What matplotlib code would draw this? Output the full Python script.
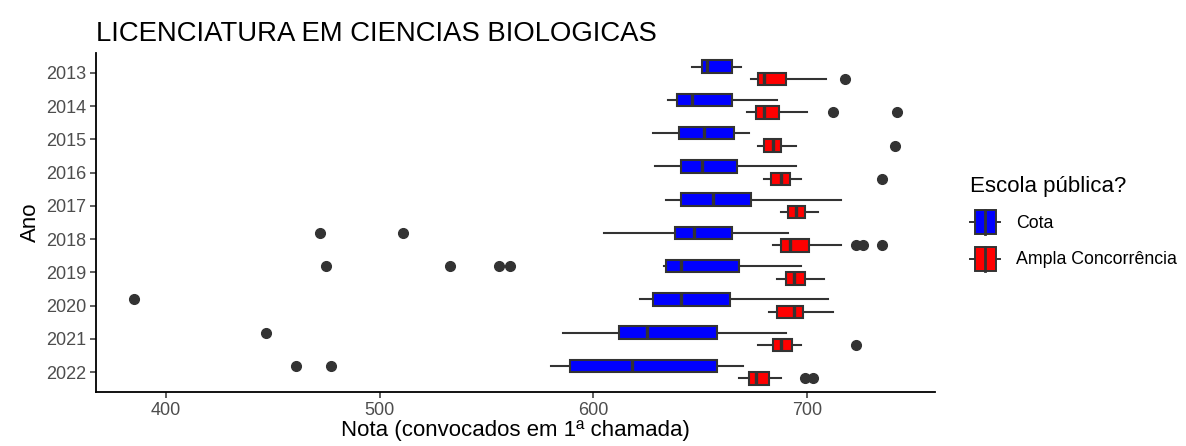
import matplotlib
matplotlib.use("Agg")
import matplotlib.pyplot as plt
from matplotlib.legend_handler import HandlerBase
from matplotlib.patches import Rectangle, Patch
from matplotlib.lines import Line2D

plt.rcParams['font.family'] = ['Liberation Sans', 'DejaVu Sans']

anos = [2013, 2014, 2015, 2016, 2017, 2018, 2019, 2020, 2021, 2022]

# Cota (escola publica)
cota_min = [646, 635, 628, 629, 634, 605, 633, 622, 586, 580]
cota_q1 = [651, 639, 640, 641, 641, 638, 634, 628, 612, 589]
cota_med = [653, 646, 652, 651, 656, 647, 641, 641, 625, 618]
cota_q3 = [665, 665, 666, 667, 674, 665, 668, 664, 658, 658]
cota_max = [669, 686, 673, 695, 716, 691, 697, 710, 690, 670]
cota_out = [[], [], [], [], [], [472, 511], [475, 533, 556, 561], [385], [447], [461, 477]]

# Ampla Concorrencia
amp_min = [674, 672, 677, 680, 688, 684, 686, 682, 677, 668]
amp_q1 = [677, 676, 680, 683, 691, 688, 690, 686, 684, 673]
amp_med = [680, 680, 684, 688, 695, 692, 694, 694, 688, 676]
amp_q3 = [690, 687, 688, 692, 699, 701, 699, 698, 693, 682]
amp_max = [709, 700, 695, 697, 705, 716, 708, 712, 697, 688]
amp_out = [[718], [712, 742], [741], [735], [], [723, 726, 735], [], [], [723], [699, 703]]

grupos = ["Cota", "Ampla Concorrência"]
cores = ["#0000FF", "#FF0000"]
EDGE = "#333333"


def make_stats(lo, q1, med, q3, hi, out):
    return [dict(whislo=a, q1=b, med=c, q3=d, whishi=e, fliers=f)
            for a, b, c, d, e, f in zip(lo, q1, med, q3, hi, out)]


fig = plt.figure(figsize=(11.86, 4.46), dpi=100)
ax = fig.add_axes([96 / 1186, 1 - 392 / 446, (935 - 96) / 1186, (392 - 53) / 446])

base = [len(anos) - i for i in range(len(anos))]
dodge = 0.1875
series = [
    make_stats(cota_min, cota_q1, cota_med, cota_q3, cota_max, cota_out),
    make_stats(amp_min, amp_q1, amp_med, amp_q3, amp_max, amp_out),
]
for k, (stats, cor) in enumerate(zip(series, cores)):
    pos = [b + dodge if k == 0 else b - dodge for b in base]
    ax.bxp(stats, positions=pos, widths=0.375, orientation='horizontal',
           patch_artist=True, showcaps=False,
           boxprops=dict(facecolor=cor, edgecolor=EDGE, linewidth=1.5),
           medianprops=dict(color=EDGE, linewidth=2.4),
           whiskerprops=dict(color=EDGE, linewidth=1.5),
           flierprops=dict(marker='o', markerfacecolor=EDGE, markeredgecolor=EDGE,
                           markersize=7))

ax.set_xlim(367.2, 759.9)
ax.set_ylim(0.4, 10.6)
ax.set_yticks(base)
ax.set_yticklabels([str(a) for a in anos])
ax.set_xticks([400, 500, 600, 700])
for s in ['top', 'right']:
    ax.spines[s].set_visible(False)
for s in ['left', 'bottom']:
    ax.spines[s].set_color('black')
    ax.spines[s].set_linewidth(1.3)
ax.tick_params(colors=EDGE, labelcolor='#4D4D4D', labelsize=13, length=4, width=1.1, pad=3)
ax.set_xlabel("Nota (convocados em 1ª chamada)", fontsize=16, color='black', labelpad=1)
ax.set_ylabel("Ano", fontsize=16, color='black', labelpad=4)

fig.text(96 / 1186, 1 - 41 / 446, "LICENCIATURA EM CIENCIAS BIOLOGICAS",
         fontsize=19.8, va='baseline', ha='left')


class BoxKey(HandlerBase):
    def create_artists(self, legend, orig_handle, xdescent, ydescent,
                       width, height, fontsize, trans):
        x0, y0 = -xdescent, -ydescent
        cx = x0 + width / 2
        cy = y0 + height / 2
        bw = width * 0.67
        r = Rectangle((cx - bw / 2, y0), bw, height, facecolor=orig_handle.get_facecolor(),
                      edgecolor=EDGE, linewidth=1.4, transform=trans)
        m = Line2D([cx, cx], [y0, y0 + height], color=EDGE, linewidth=2.0, transform=trans)
        w1 = Line2D([x0, cx - bw / 2], [cy, cy], color=EDGE, linewidth=1.4, transform=trans)
        w2 = Line2D([cx + bw / 2, x0 + width], [cy, cy], color=EDGE, linewidth=1.4, transform=trans)
        return [w1, w2, r, m]


handles = [Patch(facecolor=c) for c in cores]
leg = fig.legend(handles, grupos, loc='upper left', bbox_to_anchor=(958 / 1186, 1 - 164 / 446),
                 frameon=False, fontsize=12.8, title="Escola pública?", title_fontsize=16,
                 handler_map={Patch: BoxKey()}, handlelength=1.69, handleheight=1.7,
                 labelspacing=0.71, handletextpad=0.9, borderpad=0.2)
leg._legend_box.align = "left"

fig.savefig("out.png", dpi=100)
